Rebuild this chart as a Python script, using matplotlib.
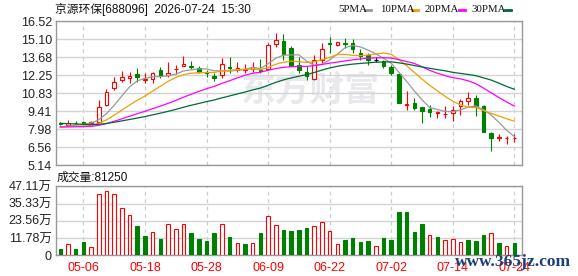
import matplotlib
matplotlib.use('Agg')
import matplotlib.pyplot as plt
from matplotlib.lines import Line2D
import numpy as np
import pandas as pd

plt.rcParams['font.family'] = ['Liberation Sans', 'Noto Sans CJK SC']

# trading days shown (MM-DD)
dates = ['04-28', '04-29', '04-30', '05-06', '05-07', '05-08', '05-11', '05-12', '05-13', '05-14',
         '05-15', '05-18', '05-19', '05-20', '05-21', '05-22', '05-25', '05-26', '05-27', '05-28',
         '05-29', '06-01', '06-02', '06-03', '06-04', '06-05', '06-08', '06-09', '06-10', '06-11',
         '06-12', '06-15', '06-16', '06-17', '06-18', '06-22', '06-23', '06-24', '06-25', '06-26',
         '06-29', '06-30', '07-01', '07-02', '07-03', '07-06', '07-07', '07-08', '07-09', '07-10',
         '07-13', '07-14', '07-15', '07-16', '07-17', '07-20', '07-21', '07-22', '07-23', '07-24']
tick_dates = ['05-06', '05-18', '05-28', '06-09', '06-22', '07-02', '07-14', '07-24']

opens = [8.51, 8.32, 8.50, 8.56, 8.46, 8.59, 9.89, 11.27, 11.87, 12.06,
         12.32, 11.85, 11.98, 12.71, 12.24, 12.72, 12.97, 12.97, 12.84, 12.52,
         12.19, 12.29, 12.94, 12.68, 12.68, 12.75, 12.71, 12.76, 14.72, 14.98,
         14.38, 13.10, 12.55, 11.93, 13.44, 14.80, 14.67, 14.82, 14.80, 14.02,
         13.83, 13.44, 13.41, 12.92, 12.32, 9.89, 10.05, 9.71, 9.60, 9.30,
         9.19, 9.24, 9.84, 10.25, 10.49, 9.79, 7.70, 7.33, 7.28, 7.30]
highs = [8.56, 8.72, 8.61, 8.66, 8.64, 10.28, 11.20, 12.11, 12.63, 12.52,
         12.84, 12.40, 12.52, 12.89, 13.28, 13.10, 13.75, 13.41, 13.02, 12.65,
         12.45, 13.62, 13.67, 13.28, 13.13, 13.28, 13.57, 14.80, 15.58, 15.53,
         14.55, 13.70, 12.97, 13.88, 14.80, 15.24, 14.92, 15.19, 15.11, 14.33,
         14.02, 13.70, 13.49, 13.07, 12.45, 11.01, 10.44, 9.71, 9.89, 9.45,
         9.84, 9.84, 10.36, 10.93, 10.67, 9.89, 7.75, 7.62, 7.49, 7.62]
lows = [8.35, 8.25, 8.38, 8.38, 8.41, 8.53, 9.79, 11.12, 11.72, 11.67,
        11.74, 11.67, 11.64, 12.06, 12.14, 12.37, 12.97, 12.76, 12.40, 12.14,
        11.77, 12.03, 12.45, 12.50, 12.45, 12.50, 12.45, 12.66, 14.48, 13.49,
        12.95, 12.40, 11.87, 11.87, 13.23, 14.02, 14.59, 14.38, 14.02, 13.49,
        13.10, 13.28, 12.81, 12.24, 10.10, 9.53, 9.53, 8.46, 8.98, 8.88,
        8.88, 8.61, 9.14, 9.92, 9.06, 7.75, 6.24, 7.07, 6.83, 6.96]
closes = [8.40, 8.51, 8.46, 8.43, 8.56, 9.71, 10.96, 11.74, 12.13, 12.16,
          12.08, 11.93, 12.40, 12.19, 12.45, 12.77, 13.15, 12.89, 12.53, 12.44,
          12.03, 13.15, 12.79, 12.84, 12.74, 12.92, 12.62, 14.67, 15.06, 13.94,
          13.02, 12.66, 12.19, 13.44, 14.33, 14.74, 14.90, 14.75, 14.33, 13.75,
          13.49, 13.44, 12.97, 12.45, 10.10, 9.97, 9.63, 9.45, 9.37, 9.34,
          9.22, 9.50, 10.20, 10.44, 9.79, 7.75, 7.33, 7.38, 7.30, 7.33]
# closes before the window (estimated from where the MA lines start)
prior_closes = [9.35, 9.28, 9.20, 9.12, 9.05, 8.98, 8.92, 8.85, 8.78, 8.72,
                8.45, 8.30, 8.22, 8.15, 8.12, 8.10, 8.18, 8.20, 8.12, 8.08,
                8.15, 8.20, 8.17, 8.12, 8.10, 8.14, 8.12, 8.08, 8.10]

# volume in 万
volume = [4.1, 7.5, 4.1, 8.9, 5.5, 41.6, 43.7, 41.6, 32.0, 27.4,
          19.9, 13.0, 15.6, 11.0, 21.3, 17.8, 21.3, 15.1, 11.0, 9.6,
          15.1, 21.7, 12.3, 8.7, 7.5, 8.7, 15.1, 26.8, 20.4, 17.2,
          16.5, 17.2, 18.5, 19.7, 22.4, 16.9, 8.0, 10.3, 11.7, 8.9,
          9.6, 6.6, 11.7, 10.3, 29.5, 29.5, 15.8, 21.3, 13.7, 12.8,
          10.3, 11.4, 8.9, 10.7, 9.6, 13.7, 15.1, 8.2, 6.2, 8.125]
vol_up = 'grggrrrrrrggrgrrrggggrgrgrgrrggggrrrrggggrggggggrgrrrgggrgr'

price_ticks = [5.14, 6.56, 7.98, 9.41, 10.83, 12.25, 13.68, 15.10, 16.52]
vol_ticks = [0, 11.78, 23.56, 35.33, 47.11]
vol_labels = ['0', '11.78万', '23.56万', '35.33万', '47.11万']

ma_periods = [5, 10, 20, 30]
ma_colors = ['#999999', '#f0a000', '#ff00ff', '#006a35']

RED = '#ff0000'
GREEN = '#008000'
GRID = '#d4d4d4'
FRAME = '#999999'

fig = plt.figure(figsize=(5.78, 2.76), dpi=100)
ax = fig.add_axes([56/578, 1-165.3/276, 466/578, 144/276])
axv = fig.add_axes([56/578, 1-255.3/276, 466/578, 69/276])

x = np.arange(len(dates))
o = np.array(opens); c = np.array(closes); h = np.array(highs); l = np.array(lows)
tick_pos = [dates.index(d) for d in tick_dates]

def cndl_color(i):
    if c[i] > o[i]:
        return RED
    if c[i] < o[i]:
        return GREEN
    return 'black'

cols = [cndl_color(i) for i in x]
faces = ['white' if cl == RED else cl for cl in cols]
ax.vlines(x, l, h, colors=cols, lw=0.8, zorder=2)
body_lo = np.minimum(o, c)
body_h = np.maximum(np.abs(c - o), 0.015)
ax.bar(x, body_h, width=0.46, bottom=body_lo, color=faces, edgecolor=cols, linewidth=0.8, zorder=3)

cs = pd.Series(prior_closes + closes)
for n, col in zip(ma_periods, ma_colors):
    ma = cs.rolling(n, min_periods=1).mean().values[len(prior_closes):]
    ax.plot(x, ma, color=col, lw=0.9, zorder=4)

ax.set_xlim(-0.56, 60.0)
ax.set_ylim(5.14, 16.52)
ax.set_yticks(price_ticks)
ax.set_yticklabels(['%.2f' % t for t in price_ticks])
ax.set_xticks(tick_pos)
ax.set_xticklabels([])
ax.grid(axis='y', color=GRID, lw=1, zorder=0)
for t in tick_pos:
    ax.axvline(t, color='#cccccc', lw=0.9, ls=(0, (3, 3)), zorder=0)

vcols = [RED if v == 'r' else GREEN for v in vol_up]
vfaces = ['white' if v == RED else v for v in vcols]
axv.bar(x, volume, width=0.46, color=vfaces, edgecolor=vcols, linewidth=0.8, zorder=3)
axv.set_xlim(-0.56, 60.0)
axv.set_ylim(0, 47.11)
axv.set_yticks(vol_ticks)
axv.set_yticklabels(vol_labels)
axv.set_xticks(tick_pos)
axv.set_xticklabels(tick_dates, color=RED, fontsize=8.5)
axv.grid(axis='y', color=GRID, lw=1, zorder=0)
for t in tick_pos:
    axv.axvline(t, color='#cccccc', lw=0.9, ls=(0, (3, 3)), zorder=0)

for a in (ax, axv):
    for s in a.spines.values():
        s.set_color(FRAME)
        s.set_linewidth(1.0)
    a.tick_params(length=0, labelsize=9, colors='#222222', pad=3)
axv.tick_params(axis='x', colors=RED, pad=4.5)

# watermark
ax.text(0.545, 0.52, '东方财富', transform=ax.transAxes, ha='center', va='center',
        fontsize=25, fontweight='bold', color='#e9e9ed', family='Noto Sans CJK SC', zorder=1)

fig.text(55/578, 1-9/276, '京源环保[688096]  2026-07-24  15:30', fontsize=8.5,
         ha='left', va='center', color='#111111')
fig.text(57/578, 1-178/276, '成交量:81250', fontsize=8.5, ha='left', va='center', color='#111111')

leg_x = [338, 380, 425, 471]
for lx, n in zip(leg_x, ma_periods):
    fig.text(lx/578, 1-9/276, '%dPMA' % n, fontsize=7.8, family='Liberation Serif',
             ha='left', va='center', color='#111111')
leg_dash = [365, 412, 459, 505]
for dx, col in zip(leg_dash, ma_colors):
    fig.add_artist(Line2D([dx/578, (dx+6)/578], [1-9.5/276, 1-9.5/276], color=col, lw=2,
                          transform=fig.transFigure))

fig.text(513/578, 1-262/276, 'www.365jz.com', fontsize=12.5, family='Liberation Serif',
         fontweight='bold', color='#1c3f7a', ha='center', va='center', zorder=10)

fig.savefig('out.png', dpi=100)
